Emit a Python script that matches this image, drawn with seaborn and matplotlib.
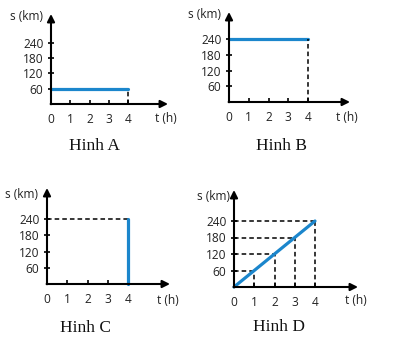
import matplotlib
matplotlib.use("Agg")
import matplotlib.pyplot as plt
import seaborn as sns

# ---- data ----
hours = [0, 1, 2, 3, 4]
hour_labels = ["0", "1", "2", "3", "4"]
s_ticks = [60, 120, 180, 240]
s_labels = ["60", "120", "180", "240"]
panel_titles = ["Hinh A", "Hinh B", "Hinh C", "Hinh D"]
x_axis_label = "t (h)"
y_axis_label = "s (km)"

t_A = [0, 4]
s_A = [60, 60]
t_B = [0, 4]
s_B = [240, 240]
t_C = [4, 4]
s_C = [0, 240]
t_D = [0, 4]
s_D = [0, 240]
t_D_guides = [1, 2, 3, 4]
s_D_guides = [60, 120, 180, 240]

# ---- style ----
sns.set_style("white")
plt.rcParams["font.family"] = ["Open Sans", "DejaVu Sans"]

W, H = 412, 346
BLUE = "#1b86cc"
fig = plt.figure(figsize=(W / 100, H / 100), dpi=100)

# layout per panel: origin px (x, y), px per hour, px per km, arrow end x px, arrow top y px
layouts = [
    dict(ox=51, oy=104, sx=19.3, sy=0.255, xe=168, yt=14),
    dict(ox=229, oy=102, sx=19.75, sy=0.2625, xe=350, yt=12),
    dict(ox=47, oy=284, sx=20.25, sy=0.27, xe=170, yt=188),
    dict(ox=234, oy=287, sx=20.25, sy=0.275, xe=358, yt=190),
]
title_pos = [(94, 146), (281, 146), (85, 328), (279, 327)]
slabel_pos = [(43, 17), (221, 14), (38, 194), (230, 196)]
tlabel_pos = [(166, 118), (347, 117), (168, 300), (356, 301)]

FS = 8.6
axes = []
for L in layouts:
    xmax = (L["xe"] - L["ox"]) / L["sx"]
    ymax = (L["oy"] - L["yt"]) / L["sy"]
    ax = fig.add_axes([L["ox"] / W, 1 - L["oy"] / H,
                       (L["xe"] - L["ox"]) / W, (L["oy"] - L["yt"]) / H])
    ax.set_xlim(0, xmax)
    ax.set_ylim(0, ymax)
    ax.patch.set_alpha(0)
    for sp in ax.spines.values():
        sp.set_visible(False)
    ax.annotate("", xy=(xmax, 0), xytext=(-0.02, 0), xycoords="data",
                arrowprops=dict(arrowstyle="-|>", lw=1.5, color="black",
                                mutation_scale=11, shrinkA=0, shrinkB=0),
                annotation_clip=False)
    ax.annotate("", xy=(0, ymax), xytext=(0, -1), xycoords="data",
                arrowprops=dict(arrowstyle="-|>", lw=1.5, color="black",
                                mutation_scale=11, shrinkA=0, shrinkB=0),
                annotation_clip=False)
    ax.set_xticks(hours)
    ax.set_xticklabels(hour_labels)
    ax.set_yticks(s_ticks)
    ax.set_yticklabels(s_labels)
    ax.tick_params(axis="x", direction="in", length=3, width=1.2, pad=6.5,
                   labelsize=FS, colors="black", bottom=True)
    ax.tick_params(axis="y", direction="inout", length=5, width=1.2, pad=3,
                   labelsize=FS, colors="black", left=True)
    for lab in ax.get_xticklabels() + ax.get_yticklabels():
        lab.set_color("#222222")
    ax.set_xlabel("")
    ax.set_ylabel("")
    axes.append(ax)

dash = dict(color="black", lw=1.1, ls=(0, (3, 2)), clip_on=False)
lw_blue = 2.3

# Panel A
ax = axes[0]
sns.lineplot(x=t_A, y=s_A, ax=ax, color=BLUE, lw=lw_blue, estimator=None, sort=False)
ax.vlines(t_A[-1], 0, s_A[-1], **dash)

# Panel B
ax = axes[1]
sns.lineplot(x=t_B, y=s_B, ax=ax, color=BLUE, lw=lw_blue, estimator=None, sort=False)
ax.vlines(t_B[-1], 0, s_B[-1], **dash)

# Panel C
ax = axes[2]
ax.hlines(s_C[-1], 0, t_C[-1], **dash)
sns.lineplot(x=t_C, y=s_C, ax=ax, color=BLUE, lw=lw_blue, estimator=None, sort=False)

# Panel D
ax = axes[3]
ax.hlines(s_D_guides, 0, t_D_guides, **dash)
ax.vlines(t_D_guides, 0, s_D_guides, **dash)
sns.lineplot(x=t_D, y=s_D, ax=ax, color=BLUE, lw=lw_blue, estimator=None, sort=False)

for ax in axes:
    for ln in ax.get_lines():
        ln.set_clip_on(False)
    if ax.get_legend():
        ax.get_legend().remove()

for (x, y), t in zip(title_pos, panel_titles):
    fig.text(x / W, 1 - y / H, t, ha="center", va="center", color="#111111",
             family=["Liberation Serif", "DejaVu Serif"], fontsize=12.5)
for (x, y) in slabel_pos:
    fig.text(x / W, 1 - y / H, y_axis_label, ha="right", va="center",
             fontsize=FS, color="#222222")
for (x, y) in tlabel_pos:
    fig.text(x / W, 1 - y / H, x_axis_label, ha="center", va="center",
             fontsize=FS, color="#222222")

fig.savefig("out.png", dpi=100)
